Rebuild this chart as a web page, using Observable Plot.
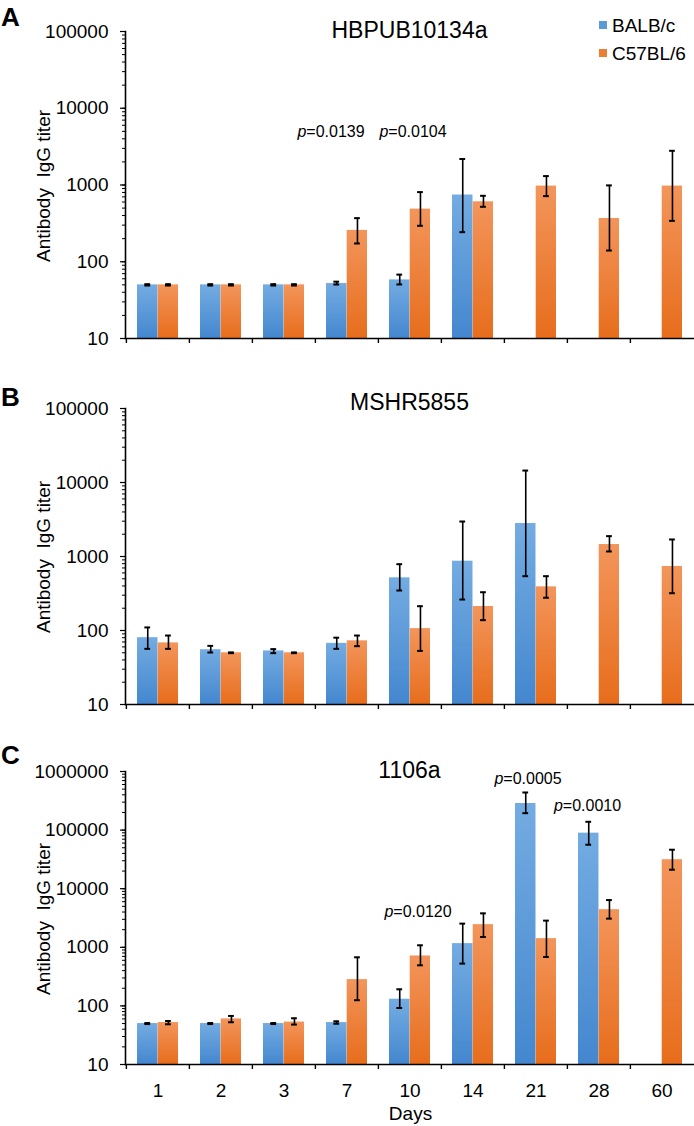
<!DOCTYPE html>
<html>
<head>
<meta charset="utf-8">
<script src="https://cdn.jsdelivr.net/npm/d3@7"></script>
<script src="https://cdn.jsdelivr.net/npm/@observablehq/plot@0.6"></script>
<style>
  html, body { margin: 0; padding: 0; background: #fff; }
  #wrap { position: relative; width: 694px; height: 1126px; font-family: "Liberation Sans", Arial, sans-serif; color: #000; overflow: hidden; }
  .abs { position: absolute; white-space: pre; line-height: 1; }
  .ctr { transform: translate(-50%, -50%); }
  .title { font-size: 23px; }
  .letter { font-size: 26px; font-weight: bold; }
  .ylab { font-size: 19px; transform: translate(-50%, -50%) rotate(-90deg); }
  .leg { font-size: 19px; }
  .sw { position: absolute; width: 8px; height: 8px; }
  svg.panel { position: absolute; left: 0; }
</style>
</head>
<body>
<svg width="0" height="0" style="position:absolute">
  <defs>
    <linearGradient id="gradBlue" x1="0" y1="0" x2="0" y2="1">
      <stop offset="0" stop-color="#74ace2"/>
      <stop offset="1" stop-color="#4487cf"/>
    </linearGradient>
    <linearGradient id="gradOrange" x1="0" y1="0" x2="0" y2="1">
      <stop offset="0" stop-color="#f3955b"/>
      <stop offset="1" stop-color="#e76d1c"/>
    </linearGradient>
  </defs>
</svg>
<div id="wrap"></div>
<script>
// ---------- data ----------
const days = ["1", "2", "3", "7", "10", "14", "21", "28", "60"];
const seriesNames = ["BALB/c", "C57BL/6"];

const titleA = "HBPUB10134a";
const titleB = "MSHR5855";
const titleC = "1106a";
const yLabel = "Antibody\u00a0 IgG titer";
const xLabel = "Days";

const yTicksA = [10, 100, 1000, 10000, 100000];
const yTicksB = [10, 100, 1000, 10000, 100000];
const yTicksC = [10, 100, 1000, 10000, 100000, 1000000];

const A_balb   = [50, 50, 50, 52, 58, 740, null, null, null];
const A_balbLo = [49, 49, 49, 50.5, 50.6, 243, null, null, null];
const A_balbHi = [51, 51, 51, 55, 68, 2180, null, null, null];
const A_c57    = [50, 50, 50, 256, 485, 604, 968, 366, 968];
const A_c57Lo  = [49, 49, 49, 173, 294, 520, 716, 140, 341];
const A_c57Hi  = [51, 51, 51, 370, 808, 723, 1306, 988, 2790];

const B_balb   = [80, 55, 53, 67, 515, 864, 2790, null, null];
const B_balbLo = [56.5, 50.4, 49.4, 56.5, 347, 262, 542, null, null];
const B_balbHi = [110, 62, 56, 80, 787, 2970, 14500, null, null];
const B_c57    = [68, 50, 50, 72.5, 106, 211, 389, 1450, 733];
const B_c57Lo  = [56.5, 49.4, 49.4, 61.4, 53, 138, 277, 1169, 319];
const B_c57Hi  = [85.5, 50.6, 50.6, 85.5, 213, 329, 542, 1884, 1698];

const C_balb   = [50, 50, 50, 52, 130, 1156, 284500, 88700, null];
const C_balbLo = [49, 49, 49, 49.6, 92, 527, 194500, 56250, null];
const C_balbHi = [51, 51, 51, 54.6, 192, 2535, 438500, 138700, null];
const C_c57    = [52, 60, 53, 281, 711, 2437, 1406, 4387, 31250];
const C_c57Lo  = [48.6, 52.6, 48, 125, 493, 1497, 683, 3083, 21090];
const C_c57Hi  = [55.3, 67.4, 61.5, 675, 1082, 3796, 2851, 6397, 46240];

// p-value annotations: category, text, titer level
const annotDaysA = ["7", "10"];
const annotTextA = ["p=0.0139", "p=0.0104"];
const annotYA    = [4900, 4900];
const annotDaysC = ["10", "21", "28"];
const annotTextC = ["p=0.0120", "p=0.0005", "p=0.0010"];
const annotYC    = [3950, 760000, 263000];

// ---------- layout ----------
const W = 694, ML = 125, MR = 0;
const step = (W - ML - MR) / days.length;
const pad = 11, barW = (step - 2 * pad) / 2 + 0.1;
const blueCenter = pad + barW / 2;          // from band start
const orangeCenter = pad + barW * 1.5;
const FONT = '"Liberation Sans", Arial, sans-serif';

function rows(v, lo, hi) {
  return days.map((d, i) => ({day: d, v: v[i], lo: lo[i], hi: hi[i]})).filter(r => r.v != null);
}

function makePanel(cfg) {
  const {yTicks, balb, balbLo, balbHi, c57, c57Lo, c57Hi, height, marginTop, marginBottom, showX, annots, annotDx} = cfg;
  const yDomain = [yTicks[0], yTicks[yTicks.length - 1]];
  const plotH = height - marginTop - marginBottom;
  const blue = rows(balb, balbLo, balbHi);
  const orange = rows(c57, c57Lo, c57Hi);
  const marks = [
    Plot.barY(blue, {x: "day", y1: yDomain[0], y2: "v", fill: "url(#gradBlue)",
      insetLeft: pad, insetRight: step - pad - barW}),
    Plot.barY(orange, {x: "day", y1: yDomain[0], y2: "v", fill: "url(#gradOrange)",
      insetLeft: pad + barW, insetRight: pad}),
    // error bars
    Plot.ruleX(blue, {x: "day", y1: "lo", y2: "hi", dx: blueCenter - step / 2, stroke: "#000", strokeWidth: 1.6}),
    Plot.ruleX(orange, {x: "day", y1: "lo", y2: "hi", dx: orangeCenter - step / 2, stroke: "#000", strokeWidth: 1.6}),
    ...["lo", "hi"].flatMap(k => [
      Plot.tickY(blue, {x: "day", y: k, stroke: "#000", strokeWidth: 2,
        insetLeft: blueCenter - 3, insetRight: step - blueCenter - 3}),
      Plot.tickY(orange, {x: "day", y: k, stroke: "#000", strokeWidth: 2,
        insetLeft: orangeCenter - 3, insetRight: step - orangeCenter - 3})
    ]),
    // axes
    Plot.axisY({ticks: 60, tickSize: 3, tickFormat: () => "", stroke: "#000", strokeWidth: 1}),
    Plot.axisY(yTicks, {tickSize: 5, tickPadding: 12, tickFormat: d => String(d), fontSize: 19, fill: "#000", stroke: "#000", strokeWidth: 1.2}),
    Plot.frame({anchor: "left", stroke: "#000", strokeWidth: 1.6}),
    Plot.frame({anchor: "bottom", stroke: "#000", strokeWidth: 1.6}),
    Plot.ruleX(days, {x: d => d, dx: -step / 2, insetTop: plotH, insetBottom: -5, stroke: "#000", strokeWidth: 1.4})
  ];
  if (showX) {
    marks.push(Plot.axisX({tickSize: 0, tickPadding: 19, fontSize: 19, fill: "#000"}));
  }
  annots.days.forEach((d, i) => {
    marks.push(Plot.text([d], {x: dd => dd, y: () => annots.y[i], text: () => annots.text[i],
      dx: annotDx[i], fontSize: 16, fill: "#000", lineAnchor: "middle", textAnchor: "middle",
      fontFamily: '"Liberation Sans Narrow", "Arial Narrow", "Liberation Sans", Arial, sans-serif'}));
  });
  const svg = Plot.plot({
    width: W, height, marginLeft: ML, marginRight: MR, marginTop, marginBottom,
    style: {fontFamily: FONT, fontSize: "19px", color: "#000", background: "transparent", overflow: "visible"},
    x: {type: "band", domain: days, padding: 0, label: null, axis: showX ? undefined : null},
    y: {type: "log", domain: yDomain, label: null},
    marks
  });
  // italic "p" in p-values
  d3.select(svg).selectAll("text").each(function() {
    const t = this.textContent;
    if (/^p=/.test(t) && this.childElementCount === 0) {
      const sel = d3.select(this);
      sel.text(null);
      sel.append("tspan").attr("font-style", "italic").text("p");
      sel.append("tspan").text(t.slice(1));
    }
  });
  svg.classList.add("panel");
  return svg;
}

const wrap = document.getElementById("wrap");

const panels = [
  {top: 0, height: 370, marginTop: 31, marginBottom: 32, yTicks: yTicksA,
   balb: A_balb, balbLo: A_balbLo, balbHi: A_balbHi, c57: A_c57, c57Lo: A_c57Lo, c57Hi: A_c57Hi,
   showX: false, annots: {days: annotDaysA, text: annotTextA, y: annotYA}, annotDx: [-16, 3],
   title: titleA, titleY: 29.5, letter: "A", letterTop: 4},
  {top: 370, height: 365, marginTop: 38, marginBottom: 31, yTicks: yTicksB,
   balb: B_balb, balbLo: B_balbLo, balbHi: B_balbHi, c57: B_c57, c57Lo: B_c57Lo, c57Hi: B_c57Hi,
   showX: false, annots: {days: [], text: [], y: []}, annotDx: [],
   title: titleB, titleY: 402, letter: "B", letterTop: 384},
  {top: 735, height: 391, marginTop: 36, marginBottom: 62, yTicks: yTicksC,
   balb: C_balb, balbLo: C_balbLo, balbHi: C_balbHi, c57: C_c57, c57Lo: C_c57Lo, c57Hi: C_c57Hi,
   showX: true, annots: {days: annotDaysC, text: annotTextC, y: annotYC}, annotDx: [8, -8, -11.5],
   title: titleC, titleY: 770, letter: "C", letterTop: 742}
];

function addDiv(cls, text, left, top) {
  const el = document.createElement("div");
  el.className = "abs " + cls;
  el.textContent = text;
  el.style.left = left + "px";
  el.style.top = top + "px";
  wrap.appendChild(el);
  return el;
}

panels.forEach(p => {
  const svg = makePanel(p);
  svg.style.top = p.top + "px";
  wrap.appendChild(svg);
  const plotCenterX = ML + (W - ML - MR) / 2;
  addDiv("title ctr", p.title, plotCenterX, p.titleY);
  addDiv("letter", p.letter, 1, p.letterTop);
  const yMid = p.top + p.marginTop + (p.height - p.marginTop - p.marginBottom) / 2 + 1;
  addDiv("ylab", yLabel, 43, yMid);
  if (p.showX) {
    addDiv("leg ctr", xLabel, plotCenterX + 1, 1113);
  }
});

// legend
const legColors = ["#5b9bd5", "#ed7d31"];
const legY = [25, 53];
seriesNames.forEach((s, i) => {
  const sw = document.createElement("div");
  sw.className = "sw";
  sw.style.background = legColors[i];
  sw.style.left = "599px";
  sw.style.top = (legY[i] - 4) + "px";
  wrap.appendChild(sw);
  const t = addDiv("leg", s, 612, legY[i]);
  t.style.transform = "translate(0, -50%)";
});
</script>
</body>
</html>
